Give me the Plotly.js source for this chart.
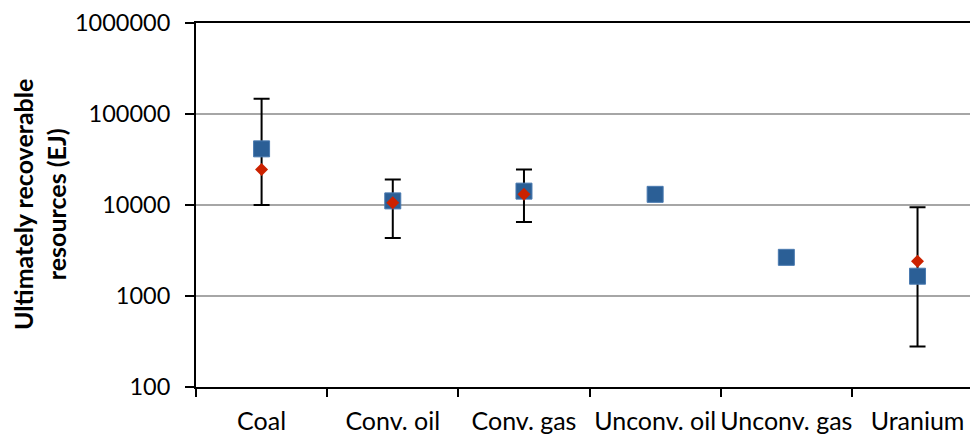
<!DOCTYPE html>
<html>
<head>
<meta charset="utf-8">
<script src="https://cdn.plot.ly/plotly-3.0.1.min.js"></script>
<style>
  html, body { margin: 0; padding: 0; background: #ffffff; }
  #chart { width: 970px; height: 434px; }
</style>
</head>
<body>
<div id="chart"></div>
<script>
// Categories
const categories = ["Coal", "Conv. oil", "Conv. gas", "Unconv. oil", "Unconv. gas", "Uranium"];
// Blue squares (EJ)
const squareValues = [41400, 11100, 14200, 13100, 2660, 1650];
// Red diamonds (EJ)
const diamondValues = [24600, 10600, 13100, null, null, 2410];
// Range high / low (error bars)
const rangeHigh = [147000, 19100, 24600, null, null, 9440];
const rangeLow = [10000, 4330, 6520, null, null, 278];
// Y tick labels
const yTickVals = [100, 1000, 10000, 100000, 1000000];
const yTickText = ["100", "1000", "10000", "100000", "1000000"];

const errPlus = diamondValues.map((v, i) => (v == null || rangeHigh[i] == null) ? null : rangeHigh[i] - v);
const errMinus = diamondValues.map((v, i) => (v == null || rangeLow[i] == null) ? null : v - rangeLow[i]);

const FONT = "Lato, 'Open Sans', sans-serif";

const traces = [
  {
    type: "scatter", mode: "markers", x: categories, y: diamondValues,
    marker: { size: 10, opacity: 0 },
    error_y: { type: "data", symmetric: false, array: errPlus, arrayminus: errMinus,
               color: "#000000", thickness: 2, width: 8 },
    hoverinfo: "skip", showlegend: false
  },
  {
    type: "scatter", mode: "markers", x: categories, y: squareValues,
    marker: { symbol: "square", size: 16, color: "#2b5f96", line: { width: 1, color: "#4a7ab0" } },
    showlegend: false
  },
  {
    type: "scatter", mode: "markers", x: categories, y: diamondValues,
    marker: { symbol: "diamond", size: 10, color: "#cc2200", line: { width: 0 } },
    showlegend: false
  }
];

const layout = {
  width: 970, height: 434,
  margin: { l: 196, r: 0, t: 23, b: 47 },
  paper_bgcolor: "#ffffff", plot_bgcolor: "#ffffff",
  font: { family: FONT, size: 22, color: "#000000" },
  showlegend: false,
  xaxis: {
    type: "category", range: [-0.5, 5.4],
    showline: true, linecolor: "#000000", linewidth: 2, mirror: true,
    ticks: "outside", ticklen: 8, tickwidth: 2, tickcolor: "#000000",
    tickson: "boundaries", showgrid: false, zeroline: false,
    tickangle: 0,
    tickfont: { family: FONT, size: 25, color: "#000000" },
    ticklabelstandoff: 11
  },
  yaxis: {
    type: "log", range: [2, 6],
    tickvals: yTickVals, ticktext: yTickText,
    showline: true, linecolor: "#000000", linewidth: 2,
    ticks: "outside", ticklen: 9, tickwidth: 2, tickcolor: "#000000",
    showgrid: true, gridcolor: "#a6a6a6", gridwidth: 1.5, zeroline: false,
    tickfont: { family: FONT, size: 23.5, color: "#000000" },
    ticklabelstandoff: 10
  },
  annotations: [{
    xref: "paper", yref: "paper", x: -(196 - 39) / 774, y: 0.5,
    xanchor: "center", yanchor: "middle", textangle: -90, showarrow: false,
    text: "<b>Ultimately recoverable</b><br><b>resources (EJ)</b>",
    font: { family: FONT, size: 25, color: "#000000" }
  }]
};

Plotly.newPlot("chart", traces, layout, { displayModeBar: false, staticPlot: true });
</script>
</body>
</html>
